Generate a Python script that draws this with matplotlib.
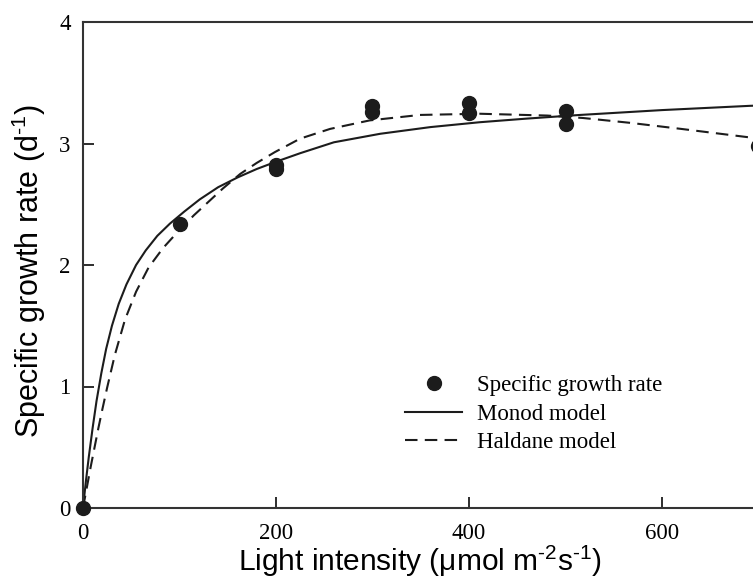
import matplotlib.pyplot as plt

# ── Data ─────────────────────────────────────────────────────────────────────
obs_light = [0, 100, 200, 200, 300, 300, 400, 400, 500, 500, 700]
obs_rate  = [0.0, 2.34, 2.82, 2.79, 3.31, 3.26, 3.33, 3.25, 3.27, 3.16, 2.98]

monod_light = [0, 3, 6, 10, 14, 19, 24, 30, 37, 45, 55, 65, 77, 90, 105,
               121, 140, 160, 180, 200, 225, 260, 308, 360, 411, 460, 515,
               600, 691, 800]
monod_rate  = [0.0, 0.22, 0.42, 0.66, 0.88, 1.11, 1.31, 1.50, 1.68, 1.84,
               2.00, 2.12, 2.24, 2.34, 2.44, 2.54, 2.64, 2.72, 2.79, 2.85,
               2.92, 3.01, 3.08, 3.135, 3.175, 3.205, 3.235, 3.275, 3.31, 3.34]

haldane_light = [0, 4, 8, 12, 16, 20, 25, 33, 43.5, 55, 68, 83, 99, 115, 130,
                 145, 163, 180, 199, 225, 256, 297, 349, 411, 481, 518, 567,
                 620, 691, 800]
haldane_rate  = [0.0, 0.17, 0.34, 0.50, 0.66, 0.81, 0.99, 1.26, 1.55, 1.78,
                 1.98, 2.14, 2.28, 2.41, 2.52, 2.63, 2.75, 2.84, 2.93, 3.04,
                 3.12, 3.19, 3.235, 3.245, 3.23, 3.21, 3.17, 3.12, 3.05, 2.93]

x_ticks = [0, 200, 400, 600]
y_ticks = [0, 1, 2, 3, 4]

plt.rcParams["mathtext.fontset"] = "custom"
plt.rcParams["mathtext.rm"] = "Liberation Sans"
plt.rcParams["mathtext.it"] = "Liberation Sans:italic"

fig = plt.figure(figsize=(7.53, 5.81), dpi=100)
# axes run past the right edge of the picture (right part is cropped)
ax = fig.add_axes([83 / 753, 73 / 581, 772 / 753, 486 / 581])

ink = "#1c1c1c"
ax.plot(obs_light, obs_rate, "o", color=ink, markersize=10, zorder=5,
        clip_on=False, label="Specific growth rate")
ax.plot(monod_light, monod_rate, "-", color=ink, lw=1.5, label="Monod model")
ax.plot(haldane_light, haldane_rate, "--", color=ink, lw=1.5, dashes=(6, 3.5),
        label="Haldane model")

ax.set_xlim(0, 800)
ax.set_ylim(0, 4)
ax.set_xticks(x_ticks)
ax.set_yticks(y_ticks)
ax.tick_params(direction="in", length=8, width=1.3, labelsize=16.5,
               color=ink)
ax.tick_params(axis="x", pad=11)
ax.tick_params(axis="y", pad=9)
for lab in ax.get_xticklabels() + ax.get_yticklabels():
    lab.set_fontfamily("Liberation Serif")
for side in ["left", "bottom", "top"]:
    ax.spines[side].set_linewidth(1.5)
    ax.spines[side].set_color("#333333")
ax.spines["right"].set_visible(False)

ax.set_xlabel(r"Light intensity (μmol m$^{\text{-2}}$s$^{\text{-1}}$)",
              fontsize=21.5, fontfamily="Liberation Sans", va="center")
ax.xaxis.set_label_coords((420 - 83) / 772, (508 - 561) / 486)
ax.set_ylabel(r"Specific growth rate (d$^{\text{-1}}$)", fontsize=22,
              fontfamily="Liberation Sans", va="center")
ax.yaxis.set_label_coords((29 - 83) / 772, (508 - 271) / 486)

ax.legend(loc="upper left", bbox_to_anchor=(405 / 753, 1 - 375 / 581),
          bbox_transform=fig.transFigure, frameon=False, borderpad=0,
          borderaxespad=0,
          prop={"family": "Liberation Serif", "size": 16.5},
          handlelength=2.5, handletextpad=0.65, labelspacing=0.33)

plt.savefig("out.png", dpi=100)
